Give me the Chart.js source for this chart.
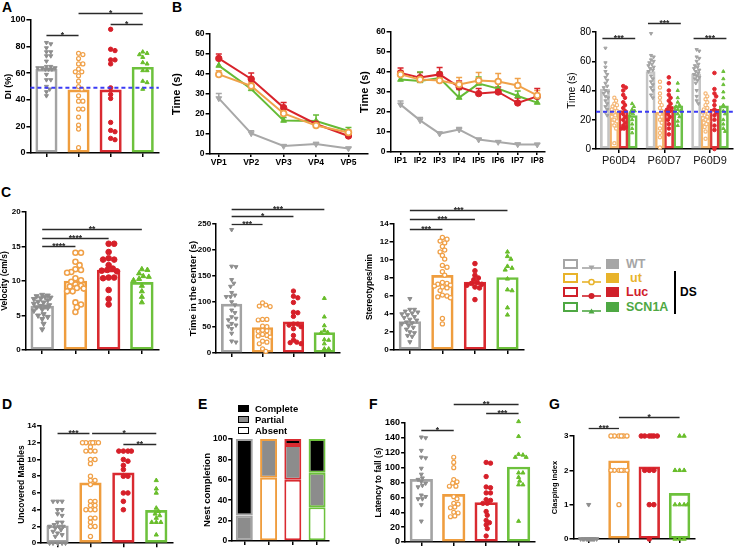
<!DOCTYPE html>
<html>
<head>
<meta charset="utf-8">
<script src="https://cdn.jsdelivr.net/npm/chart.js@4.4.1/dist/chart.umd.min.js"></script>
<style>
body { margin: 0; background: #fff; }
#fig { position: relative; width: 738px; height: 549px; overflow: hidden; font-family: "Liberation Sans", Arial, sans-serif; }
#fig canvas { position: absolute; }
.pl { position: absolute; font-weight: bold; font-size: 14px; line-height: 14px; }
.abs { position: absolute; }
</style>
</head>
<body>
<div id="fig">
  <div class="pl" style="left:2px;top:0px">A</div>
  <div class="pl" style="left:172px;top:0px">B</div>
  <div class="pl" style="left:1px;top:185px">C</div>
  <div class="pl" style="left:2px;top:397px">D</div>
  <div class="pl" style="left:198px;top:397px">E</div>
  <div class="pl" style="left:369px;top:397px">F</div>
  <div class="pl" style="left:549px;top:397px">G</div>
</div>
<script>
'use strict';

/* ---------------- data ---------------- */
const groups = ['WT', 'ut', 'Luc', 'SCN1A'];

// A - discrimination index
const aMeans = [63, 47.5, 47.5, 64.5];
const aWT = [83, 82, 79, 76, 76, 73, 73, 69, 65, 65, 64, 64, 64, 63, 63, 63, 59, 55, 55, 50, 48, 46, 43];
const aUt = [75, 74, 71, 67, 67, 63, 61, 61, 58, 54, 50, 48, 43, 39, 39, 33, 33, 27, 21, 18, 4];
const aLuc = [93, 78, 77, 70, 70, 67, 49, 44, 41, 23, 17, 16, 11, 10];
const aScn = [76, 75, 74, 72, 68, 67, 62, 62, 54, 53, 48];
const aChance = 49;
const aSig = [[0, 1, 89, '*'], [1, 3, 105, '*'], [2, 3, 97, '*']];

// B - visible platform
const vpLabels = ['VP1', 'VP2', 'VP3', 'VP4', 'VP5'];
const vpWT = [27.8, 10.3, 4, 5, 2.8];
const vpUt = [39.8, 34, 20.3, 14.2, 10.7];
const vpLuc = [47.8, 37.5, 23.2, 15, 9];
const vpScn = [44.2, 32.5, 16.7, 16.5, 11.5];
const vpErrWT = [2.5, 1.3, 0.6, 0.8, 0.5];
const vpErrUt = [1.8, 1.8, 2, 1.5, 1.3];
const vpErrLuc = [2.2, 3, 2.5, 1.2, 1];
const vpErrScn = [2.8, 1.8, 1.5, 3, 1.7];

// B - invisible platform
const ipLabels = ['IP1', 'IP2', 'IP3', 'IP4', 'IP5', 'IP6', 'IP7', 'IP8'];
const ipWT = [23.7, 15.8, 9.2, 11.2, 6.2, 5, 3.8, 3.7];
const ipUt = [38.8, 36.2, 35.8, 33.8, 35.8, 35.3, 33.3, 28.3];
const ipLuc = [39.5, 37.2, 38.8, 32.5, 29.2, 30, 24.5, 27.8];
const ipScn = [36.2, 35.5, 37, 27.2, 34.2, 31.7, 28, 24.7];
const ipErrWT = [1.8, 1.5, 0.8, 1, 0.7, 0.6, 0.6, 0.5];
const ipErrUt = [2, 1.5, 1.5, 3.5, 4, 4, 3.5, 2.5];
const ipErrLuc = [2.5, 2.5, 3.5, 3, 2.5, 2.5, 2.5, 4];
const ipErrScn = [2, 4.5, 3, 4, 3.3, 3.5, 2.5, 2];

// B - probe trials
const dayLabels = ['P60D4', 'P60D7', 'P60D9'];
const dayMeanWT = [41, 53, 51.4];
const dayMeanUt = [25, 25, 22.6];
const dayMeanLuc = [26.3, 26.7, 27.2];
const dayMeanScn = [22.9, 29.5, 29.5];
const dayWT = [
  [69, 59, 56, 53, 51, 49, 47, 45, 43, 42, 40, 39, 38, 36, 35, 33, 31, 29, 27, 25, 23],
  [79, 64, 63, 61, 60, 59, 58, 57, 56, 55, 54, 53, 50, 48, 46, 44, 42, 40, 37, 35],
  [68, 67, 63, 62, 60, 58, 57, 56, 55, 54, 53, 52, 51, 50, 49, 48, 47, 45, 40, 36, 33, 31]
];
const dayUt = [
  [35, 33, 31, 30, 29, 28, 27, 26, 25, 23, 22, 20, 19, 18, 16, 14, 4],
  [46, 42, 38, 35, 32, 30, 28, 26, 24, 22, 20, 18, 14, 11, 8, 1],
  [38, 36, 34, 32, 30, 28, 27, 26, 25, 24, 23, 22, 21, 20, 19, 18, 17, 15, 12, 7]
];
const dayLuc = [
  [43, 42, 40, 37, 35, 32, 30, 28, 26, 24, 22, 20, 18, 16, 15, 14, 14],
  [49, 45, 40, 37, 35, 33, 31, 29, 28, 27, 26, 24, 22, 20, 17, 14, 10],
  [52, 41, 38, 36, 33, 30, 27, 25, 23, 20, 16, 13, 0]
];
const dayScn = [
  [31, 29, 27, 26, 25, 24, 23, 20, 17, 14, 11],
  [45, 40, 35, 32, 30, 29, 27, 26, 24, 22, 19, 16],
  [53, 48, 44, 39, 35, 30, 26, 24, 20, 17, 14, 12]
];
const dayChance = 25.5;
const daySig = [[-0.36, 0.36, 76, '***'], [0.64, 1.36, 86, '***'], [1.64, 2.36, 76, '***']];

// C - open field
const velMeans = [6.36, 10, 11.6, 9.8];
const velWT = [8, 7.9, 7.8, 7.7, 7.6, 7.5, 7.4, 7.2, 7, 6.9, 6.7, 6.5, 6.4, 6.3, 6.2, 6.1, 5.9, 5.7, 5.2, 5, 4.8, 4.5, 3.8, 3];
const velUt = [14.1, 14.1, 12.8, 12.3, 11.7, 11.6, 11.3, 11.2, 10.4, 10.1, 9.9, 9.5, 9.3, 9.2, 9, 8.9, 8.5, 8.5, 6.9, 6.6, 6.2, 5.5];
const velLuc = [15.4, 15.4, 14.2, 13.3, 13.1, 13.1, 12.3, 11.8, 11.6, 11.5, 11.4, 10.5, 10.5, 10.4, 8.7, 7.4, 6.6];
const velScn = [11.7, 11.6, 11.1, 10.7, 10.6, 10.3, 10.1, 9.3, 8.5, 7.7, 6.9];
const velSig = [[0, 1, 15.1, '****'], [0, 2, 16.2, '****'], [0, 3, 17.5, '**']];

const ctrMeans = [94.8, 49.4, 60.4, 39.6];
const ctrWT = [239, 168, 167, 142, 135, 129, 117, 112, 109, 109, 99, 93, 83, 78, 70, 67, 64, 57, 54, 52, 47, 38, 23, 21];
const ctrUt = [97, 93, 91, 90, 65, 65, 64, 52, 51, 44, 43, 42, 36, 34, 33, 31, 23, 21, 18, 8, 3];
const ctrLuc = [120, 110, 107, 98, 78, 79, 71, 56, 56, 54, 51, 47, 34, 25, 21, 20, 18];
const ctrScn = [106, 70, 53, 44, 40, 39, 26, 25, 18, 8, 8];
const ctrSig = [[0, 1, 250.6, '***'], [0, 2, 265, '*'], [0, 3, 280, '***']];

const sterMeans = [3.16, 8.3, 7.54, 8.06];
const sterWT = [5.7, 4.5, 4.5, 4.3, 4.2, 4.1, 4, 3.9, 3.7, 3.6, 3.4, 3.3, 3.1, 3, 2.9, 2.7, 2.5, 2.3, 2, 1.9, 1.6, 1.5, 0.9];
const sterUt = [12.5, 12.3, 12.1, 11.9, 11.5, 11.1, 10.9, 10.5, 10.1, 9.4, 9.2, 8.7, 8.3, 7.5, 7.4, 7.3, 7.2, 7.1, 7, 6.9, 6.6, 6.1, 6, 5.9, 5.8, 3.5, 2.9];
const sterLuc = [9.6, 8.8, 8.3, 8, 7.8, 7.5, 7.4, 7.3, 7.2, 7, 6.9, 5.6];
const sterScn = [10.9, 10.4, 10.1, 9.3, 9.1, 8.9, 7.9, 6.7, 6.6, 4.7, 3.9];
const sterSig = [[0, 1, 13.5, '***'], [0, 2, 14.6, '***'], [0, 3, 15.5, '***']];

// D - marble burying
const marbMeans = [2.08, 7.2, 8.4, 3.93];
const marbWT = [5, 5, 5, 4, 4, 3.5, 3.3, 2.5, 2.5, 2.2, 2, 2, 2, 1.8, 1.6, 1.4, 1.2, 1, 0.8, 0, 0, 0, 0, 0];
const marbUt = [12, 12, 12, 12, 12, 12, 11.5, 11, 11, 11, 10, 10, 9.5, 8, 7.5, 7.5, 7, 5, 5, 4.5, 4.5, 4, 4, 4, 3, 3, 2.5, 2, 2, 0.8];
const marbLuc = [11, 11, 11, 11, 10, 9.8, 9.3, 8.8, 8, 8, 6, 6, 5, 4];
const marbScn = [7.5, 6.5, 6, 4.2, 3.8, 3.5, 3.3, 3, 2.5, 2.5, 2.5, 1];
const marbSig = [[0, 0.97, 13.2, '***'], [1.05, 3, 13.2, '*'], [2, 3, 11.9, '**']];

// E - nest building (%)
const nestLevels = ['Complete', 'Partial', 'Absent'];
const nestAbsent = [0, 62, 60, 33];
const nestPartial = [25, 38, 34, 34];
const nestComplete = [75, 0, 6, 33];

// F - rotarod
const rotMeans = [84.3, 64.1, 52.9, 100.8];
const rotWT = [141, 140, 123, 114, 113, 99, 91, 86, 84, 81, 79, 76, 74, 63, 61, 58, 58, 50, 28];
const rotUt = [114, 107, 100, 84, 81, 79, 75, 75, 61, 58, 52, 51, 47, 46, 40, 39, 35, 34];
const rotLuc = [107, 106, 88, 74, 73, 66, 66, 57, 56, 52, 52, 41, 36, 29, 26, 23, 18, 8];
const rotScn = [162, 142, 118, 117, 114, 114, 93, 93, 87, 82, 77, 77, 28];
const rotSig = [[0, 1, 151, '*'], [1, 3, 186, '**'], [2, 3, 173.5, '***']];

// G - clasping
const claspMeans = [0.04, 2.28, 2.1, 1.33];
const claspWT = [1, 0, 0, 0, 0, 0, 0, 0, 0, 0, 0, 0, 0];
const claspUt = [3, 3, 3, 3, 3, 3, 2, 2, 2, 2, 2, 2, 1];
const claspLuc = [3, 3, 3, 3, 3, 3, 2, 2, 2, 1, 1, 0];
const claspScn = [3, 3, 2, 2, 2, 1, 1, 1, 1, 0, 0, 0];
const claspSig = [[0, 1, 3.22, '***'], [1, 3, 3.55, '*']];

/* ---------------- styles ---------------- */
const barCol = ['#a3a3a3', '#ef9d3e', '#d92a30', '#6dc13c'];
const dotCol = ['#8e8e8e', '#f0a047', '#d61f29', '#68bd2a'];
const lineCol = ['#a8a8a8', '#f0a24a', '#d8232b', '#65bb35'];
const dayBarCol = ['#c4c4c4', '#f3b46c', '#dc3538', '#6cc048'];
const dayDotCol = ['#a4a4a4', '#f5b878', '#e0262e', '#6bbf3a'];
const legendCol = ['#a6a6a6', '#e8b32a', '#d0202a', '#4ea843'];

Chart.defaults.font.family = '"Liberation Sans", Arial, sans-serif';
Chart.defaults.animation = false;
Chart.defaults.responsive = false;
Chart.defaults.plugins.legend.display = false;
Chart.defaults.plugins.tooltip.enabled = false;

// significance bars, in data units of x and y
Chart.register({
  id: 'sig',
  afterDatasetsDraw(chart, args, o) {
    if (!o || !o.bars) return;
    const x = chart.scales.x, y = chart.scales.y, ctx = chart.ctx;
    ctx.save();
    ctx.strokeStyle = '#2a2a2a';
    ctx.fillStyle = '#2a2a2a';
    ctx.lineWidth = 1.3;
    ctx.font = 'bold 8.5px "Liberation Sans", Arial';
    ctx.textAlign = 'center';
    ctx.textBaseline = 'alphabetic';
    o.bars.forEach(b => {
      const x1 = x.getPixelForValue(b[0]), x2 = x.getPixelForValue(b[1]);
      const yy = Math.round(y.getPixelForValue(b[2])) + 0.5;
      ctx.beginPath();
      ctx.moveTo(x1, yy);
      ctx.lineTo(x2, yy);
      ctx.stroke();
      ctx.fillText(b[3], (x1 + x2) / 2, yy + 2.5);
    });
    ctx.restore();
  }
});

// dashed chance level
Chart.register({
  id: 'refLine',
  afterDatasetsDraw(chart, args, o) {
    if (!o || o.value == null) return;
    const a = chart.chartArea, ctx = chart.ctx;
    const yy = chart.scales.y.getPixelForValue(o.value);
    ctx.save();
    ctx.setLineDash([4, 3]);
    ctx.strokeStyle = '#3b3bf5';
    ctx.lineWidth = 2;
    ctx.beginPath();
    ctx.moveTo(a.left, yy);
    ctx.lineTo(a.right, yy);
    ctx.stroke();
    ctx.restore();
  }
});

// upward SEM bars for the line charts
Chart.register({
  id: 'errbars',
  beforeDatasetsDraw(chart) {
    const ctx = chart.ctx, y = chart.scales.y;
    chart.data.datasets.forEach((ds, i) => {
      if (!ds.errors) return;
      const meta = chart.getDatasetMeta(i);
      ctx.save();
      ctx.strokeStyle = ds.borderColor;
      ctx.lineWidth = 1.5;
      meta.data.forEach((pt, k) => {
        const top = y.getPixelForValue(ds.data[k].y + ds.errors[k]);
        ctx.beginPath();
        ctx.moveTo(pt.x, pt.y);
        ctx.lineTo(pt.x, top);
        ctx.moveTo(pt.x - 3, top);
        ctx.lineTo(pt.x + 3, top);
        ctx.stroke();
      });
      ctx.restore();
    });
  }
});

/* ---------------- helpers ---------------- */
function makeCanvas(x, y, w, h) {
  const c = document.createElement('canvas');
  c.width = Math.round(w);
  c.height = Math.round(h);
  c.style.left = x + 'px';
  c.style.top = y + 'px';
  document.getElementById('fig').appendChild(c);
  return c;
}

// canvas placed so that the plot area lands on the reference axes
function panelBox(p) {
  const yW = p.ax - p.titleX + 0.6 * p.titleSize;
  const x = p.ax - yW;
  const padR = p.padR == null ? 4 : p.padR;
  const padB = p.padB == null ? 2 : p.padB;
  const w = Math.round(p.axEnd - x + padR);
  const h = Math.round(p.ayBot - p.top + p.xH + padB);
  return {
    yW: yW,
    canvas: makeCanvas(x, p.top, w, h),
    padding: {left: 0, top: p.ayTop - p.top, right: w - (p.axEnd - x), bottom: h - (p.ayBot - p.top) - p.xH}
  };
}

function yScale(p, yW) {
  return {
    min: 0, max: p.ymax,
    afterFit: s => { s.width = yW; },
    border: {color: '#000', width: 1.5},
    grid: {drawOnChartArea: false, tickLength: 4, color: '#000', lineWidth: 1.5},
    ticks: {stepSize: p.step, padding: 1, color: '#000', font: {size: p.tickSize, weight: p.tickWeight || 'bold'}},
    title: {display: true, text: p.title, color: p.titleColor || '#000', padding: 0,
            font: {size: p.titleSize, weight: p.titleWeight || 'bold'}}
  };
}

// linear x axis with one tick per group, so bars, dots and brackets share it
function xGroups(labels, xH, showLabels) {
  return {
    type: 'linear', offset: false, min: -0.5, max: labels.length - 0.5,
    afterBuildTicks: s => { s.ticks = labels.map((l, i) => ({value: i})); },
    afterFit: s => { s.height = xH; },
    border: {color: '#000', width: 1.5},
    grid: {offset: false, drawOnChartArea: false, tickLength: 4, color: '#000', lineWidth: 1.5},
    ticks: showLabels
      ? {display: true, autoSkip: false, maxRotation: 0, padding: 1, color: '#111',
         font: {size: 11, weight: 'normal'}, callback: (v, i) => labels[i]}
      : {display: false}
  };
}

function xCat(xH) {
  return {
    type: 'category', offset: true,
    afterFit: s => { s.height = xH; },
    border: {color: '#000', width: 1.5},
    grid: {offset: false, drawOnChartArea: false, tickLength: 4, color: '#000', lineWidth: 1.5},
    ticks: {display: false}
  };
}

function marker(g, col, r) {
  const m = {pointRadius: r, pointBorderWidth: 1, pointBackgroundColor: col, pointBorderColor: col,
             pointStyle: 'circle', pointRotation: 0};
  if (g === 0) { m.pointStyle = 'triangle'; m.pointRotation = 180; m.pointRadius = r * 1.05; }
  if (g === 1) { m.pointBackgroundColor = '#fff'; m.pointBorderWidth = Math.max(1.2, r * 0.55); m.pointRadius = r * 0.9; }
  if (g === 3) { m.pointStyle = 'triangle'; m.pointRadius = r * 1.05; }
  return m;
}

// spread points sideways so they don't sit on top of each other (layout only)
function swarm(vals, center, pxX, pxY, r, lim) {
  const placed = [];
  const out = [];
  const order = vals.map((v, i) => i).sort((a, b) => vals[b] - vals[a]);
  const minD = (1.75 * r) ** 2;
  order.forEach(i => {
    const py = vals[i] * pxY;
    let best = 0, bestD = -1;
    for (let k = 0; k < 80; k++) {
      const o = (k % 2 ? 1 : -1) * Math.ceil(k / 2) * r * 0.5;
      if (Math.abs(o) > lim) break;
      let d = Infinity;
      placed.forEach(q => { d = Math.min(d, (q[0] - o) ** 2 + (q[1] - py) ** 2); });
      if (d >= minD) { best = o; break; }
      if (d > bestD) { bestD = d; best = o; }
    }
    placed.push([best, py]);
    out.push({x: center + best / pxX, y: vals[i]});
  });
  return out;
}

/* ---------------- panels ---------------- */
function dotPanel(p) {
  const b = panelBox(p);
  const n = groups.length;
  const pxX = (p.axEnd - p.ax) / n, pxY = (p.ayBot - p.ayTop) / p.ymax;
  const datasets = [{
    type: 'bar', order: 2,
    data: p.means.map((m, i) => ({x: i, y: m})),
    borderColor: barCol, backgroundColor: 'rgba(255,255,255,0)',
    borderWidth: 2, borderSkipped: false, barThickness: p.barFrac * pxX
  }];
  p.pts.forEach((vals, g) => {
    datasets.push(Object.assign({
      type: 'scatter', order: 1, clip: false,
      data: swarm(vals, g, pxX, pxY, p.r, p.spread)
    }, marker(g, dotCol[g], p.r)));
  });
  new Chart(b.canvas, {
    type: 'bar',
    data: {datasets: datasets},
    options: {
      layout: {padding: b.padding},
      scales: {x: xGroups(groups, p.xH, false), y: yScale(p, b.yW)},
      plugins: {sig: {bars: p.sig}, refLine: {value: p.ref}}
    }
  });
}

function linePanel(p) {
  const b = panelBox(p);
  const datasets = p.series.map((s, g) => Object.assign({
    data: s.map((v, i) => ({x: i + 1, y: v})),
    errors: p.errs[g],
    borderColor: lineCol[g], backgroundColor: lineCol[g],
    borderWidth: 2, tension: 0, clip: false
  }, marker(g, lineCol[g], 3.2)));
  new Chart(b.canvas, {
    type: 'line',
    data: {datasets: datasets},
    options: {
      layout: {padding: b.padding},
      scales: {
        x: {
          type: 'linear', min: p.xMin, max: p.xMax,
          afterBuildTicks: s => { s.ticks = p.labels.map((l, i) => ({value: i + 1})); },
          afterFit: s => { s.height = p.xH; },
          border: {color: '#000', width: 1.5},
          grid: {drawOnChartArea: false, tickLength: 3, color: '#000', lineWidth: 1.5},
          ticks: {autoSkip: false, maxRotation: 0, padding: 1, color: '#000',
                  font: {size: 8.5, weight: 'bold'}, callback: (v, i) => p.labels[i]}
        },
        y: yScale(p, b.yW)
      }
    }
  });
}

function dayPanel(p) {
  const b = panelBox(p);
  const n = dayLabels.length;
  const pxX = (p.axEnd - p.ax) / n, pxY = (p.ayBot - p.ayTop) / p.ymax;
  const means = [dayMeanWT, dayMeanUt, dayMeanLuc, dayMeanScn];
  const pts = [dayWT, dayUt, dayLuc, dayScn];
  const slot = p.barFrac / 4;
  const datasets = means.map((m, g) => ({
    type: 'bar', order: 2,
    data: m.map((v, i) => ({x: i, y: v})),
    borderColor: dayBarCol[g], backgroundColor: 'rgba(255,255,255,0)',
    borderWidth: 2, borderSkipped: false, barThickness: slot * pxX
  }));
  pts.forEach((perDay, g) => {
    perDay.forEach((vals, d) => {
      const c = d + (g - 1.5) * slot;
      datasets.push(Object.assign({
        type: 'scatter', order: 1, clip: false,
        data: swarm(vals, c, pxX, pxY, p.r, p.spread)
      }, marker(g, dayDotCol[g], p.r)));
    });
  });
  new Chart(b.canvas, {
    type: 'bar',
    data: {datasets: datasets},
    options: {
      layout: {padding: b.padding},
      scales: {x: xGroups(dayLabels, p.xH, true), y: yScale(p, b.yW)},
      plugins: {sig: {bars: p.sig}, refLine: {value: p.ref}}
    }
  });
}

function nestPanel(p) {
  const b = panelBox(p);
  const seg = (data, fill) => ({
    data: data, backgroundColor: fill, borderColor: barCol, borderWidth: 2,
    borderSkipped: false, barPercentage: 1, categoryPercentage: p.barFrac
  });
  const x = xCat(p.xH);
  x.stacked = true;
  const y = yScale(p, b.yW);
  y.stacked = true;
  new Chart(b.canvas, {
    type: 'bar',
    data: {labels: groups, datasets: [seg(nestAbsent, '#ffffff'), seg(nestPartial, '#8c8c8c'), seg(nestComplete, '#000000')]},
    options: {layout: {padding: b.padding}, scales: {x: x, y: y}}
  });
}

/* ---------------- build ---------------- */
dotPanel({ax: 30, ayTop: 20, ayBot: 153, axEnd: 160, top: 0, xH: 6, titleX: 8, titleSize: 9, tickSize: 9,
  title: 'DI (%)', ymax: 100, step: 20, barFrac: 0.66, r: 2.2, spread: 9,
  means: aMeans, pts: [aWT, aUt, aLuc, aScn], sig: aSig, ref: aChance});

linePanel({ax: 210, ayTop: 34, ayBot: 154, axEnd: 370, top: 20, xH: 14, titleX: 177, titleSize: 11, tickSize: 8.5,
  title: 'Time (s)', ymax: 60, step: 10, xMin: 0.716, xMax: 5.61, labels: vpLabels,
  series: [vpWT, vpUt, vpLuc, vpScn], errs: [vpErrWT, vpErrUt, vpErrLuc, vpErrScn]});

linePanel({ax: 391, ayTop: 32, ayBot: 152, axEnd: 547, top: 18, xH: 14, titleX: 365, titleSize: 11, tickSize: 8.5,
  title: 'Time (s)', ymax: 60, step: 10, xMin: 0.49, xMax: 8.41, labels: ipLabels,
  series: [ipWT, ipUt, ipLuc, ipScn], errs: [ipErrWT, ipErrUt, ipErrLuc, ipErrScn]});

dayPanel({ax: 596, ayTop: 32, ayBot: 149, axEnd: 738, padR: 0, top: 10, xH: 16, titleX: 572, titleSize: 10,
  titleWeight: 'normal', tickSize: 10, tickWeight: 'normal', title: 'Time (s)', ymax: 80, step: 20,
  barFrac: 0.78, r: 1.8, spread: 3.5, sig: daySig, ref: dayChance});

dotPanel({ax: 26, ayTop: 212, ayBot: 350, axEnd: 160, top: 195, xH: 6, titleX: 5.5, titleSize: 8.5, tickSize: 8,
  title: 'Velocity (cm/s)', ymax: 20, step: 5, barFrac: 0.68, r: 2.8, spread: 9,
  means: velMeans, pts: [velWT, velUt, velLuc, velScn], sig: velSig});

dotPanel({ax: 216, ayTop: 224, ayBot: 353, axEnd: 341, top: 198, xH: 6, titleX: 193.5, titleSize: 9.5, tickSize: 8,
  title: 'Time in the center (s)', ymax: 250, step: 50, barFrac: 0.66, r: 2.2, spread: 8,
  means: ctrMeans, pts: [ctrWT, ctrUt, ctrLuc, ctrScn], sig: ctrSig});

dotPanel({ax: 394, ayTop: 224, ayBot: 350, axEnd: 525, top: 198, xH: 6, titleX: 370.5, titleSize: 8.5, tickSize: 8,
  title: 'Stereotypes/min', ymax: 14, step: 2, barFrac: 0.66, r: 2.3, spread: 9,
  means: sterMeans, pts: [sterWT, sterUt, sterLuc, sterScn], sig: sterSig});

dotPanel({ax: 41, ayTop: 426, ayBot: 544, axEnd: 174, top: 408, xH: 5, padB: 0, titleX: 22, titleSize: 8.5, tickSize: 8,
  title: 'Uncovered Marbles', ymax: 14, step: 2, barFrac: 0.65, r: 2.3, spread: 9,
  means: marbMeans, pts: [marbWT, marbUt, marbLuc, marbScn], sig: marbSig});

nestPanel({ax: 232, ayTop: 439, ayBot: 541, axEnd: 329, top: 432, xH: 6, padB: 2, titleX: 207.5, titleSize: 9.5,
  tickSize: 8.5, title: 'Nest completion', ymax: 100, step: 20, barFrac: 0.7});

dotPanel({ax: 405, ayTop: 423, ayBot: 542, axEnd: 536, top: 393, xH: 5, padB: 2, titleX: 379, titleSize: 8.5, tickSize: 9,
  title: 'Latency to fall (s)', ymax: 160, step: 20, barFrac: 0.69, r: 2.2, spread: 9,
  means: rotMeans, pts: [rotWT, rotUt, rotLuc, rotScn], sig: rotSig});

dotPanel({ax: 573, ayTop: 436, ayBot: 539, axEnd: 695, top: 400, xH: 6, padB: 2, titleX: 554, titleSize: 7.5, tickSize: 8,
  title: 'Clasping index', ymax: 3, step: 1, barFrac: 0.68, r: 2.3, spread: 9,
  means: claspMeans, pts: [claspWT, claspUt, claspLuc, claspScn], sig: claspSig});

/* ---------------- legends (HTML) ---------------- */
const fig = document.getElementById('fig');
function addDiv(style, text) {
  const d = document.createElement('div');
  d.className = 'abs';
  d.style.cssText += style;
  if (text) d.textContent = text;
  fig.appendChild(d);
  return d;
}

const legendRowY = [264, 278, 292, 307];
const markerSvg = [
  c => '<polygon points="6.5,2.5 12.5,2.5 9.5,7.5" fill="' + c + '"/>',
  c => '<circle cx="9.5" cy="5" r="2.6" fill="#fff" stroke="' + c + '" stroke-width="1.5"/>',
  c => '<circle cx="9.5" cy="5" r="3" fill="' + c + '"/>',
  c => '<polygon points="6.5,7.5 12.5,7.5 9.5,2.5" fill="' + c + '"/>'
];
groups.forEach((name, g) => {
  const cy = legendRowY[g], c = legendCol[g];
  addDiv('left:563px;top:' + (cy - 5) + 'px;width:11px;height:6px;border:2px solid ' + c + ';');
  const s = addDiv('left:582px;top:' + (cy - 5) + 'px;width:19px;height:10px;');
  s.innerHTML = '<svg width="19" height="10"><line x1="0" y1="5" x2="19" y2="5" stroke="' + c +
    '" stroke-width="1.6"/>' + markerSvg[g](c) + '</svg>';
  addDiv('left:606px;top:' + (cy - 5) + 'px;width:13px;height:10px;background:' + c + ';');
  addDiv('left:' + (g === 1 ? 630 : 626) + 'px;top:' + (cy - 7) + 'px;font-weight:bold;font-size:12.5px;line-height:14px;color:' + c + ';', name);
});
addDiv('left:674px;top:271px;width:1.5px;height:43px;background:#000;');
addDiv('left:680px;top:285px;font-weight:bold;font-size:12px;line-height:14px;color:#000;', 'DS');

const nestFill = ['#000000', '#8c8c8c', '#ffffff'];
const nestRowY = [409, 420, 431];
nestLevels.forEach((lvl, i) => {
  const cy = nestRowY[i];
  addDiv('left:238px;top:' + (cy - 4) + 'px;width:9px;height:5px;border:1.5px solid #000;background:' + nestFill[i] + ';');
  addDiv('left:255px;top:' + (cy - 6) + 'px;font-weight:bold;font-size:9.5px;line-height:12px;color:#000;', lvl);
});
</script>
</body>
</html>
